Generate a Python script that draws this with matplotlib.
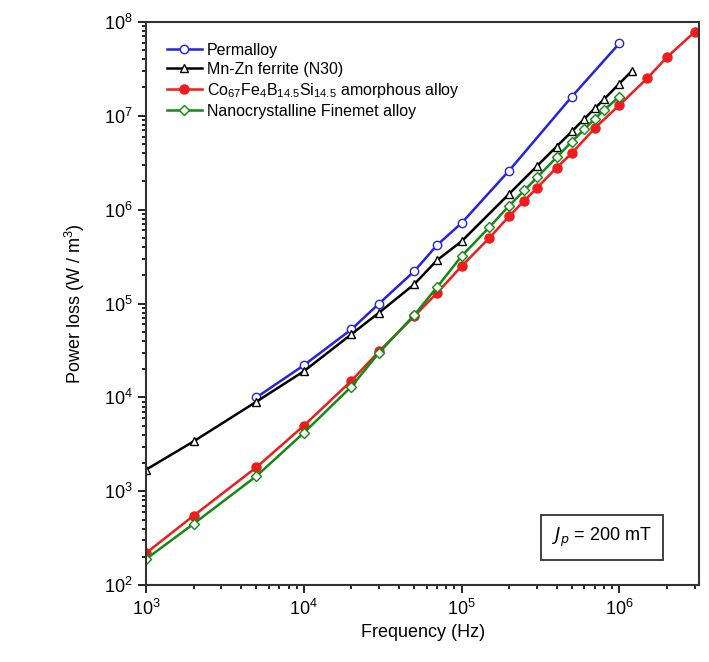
import numpy as np
import matplotlib
matplotlib.use('Agg')
import matplotlib.pyplot as plt
from matplotlib import rcParams

rcParams.update({'font.size': 12, 'font.family': 'Liberation Sans',
                 'mathtext.default': 'regular'})

# Permalloy
f_perm = [5e3, 1e4, 2e4, 3e4, 5e4, 7e4, 1e5, 2e5, 5e5, 1e6]
p_perm = [1.0e4, 2.2e4, 5.3e4, 1.0e5, 2.2e5, 4.2e5, 7.2e5, 2.6e6, 1.6e7, 5.9e7]

# Mn-Zn ferrite (N30)
f_fer = [1e3, 2e3, 5e3, 1e4, 2e4, 3e4, 5e4, 7e4, 1e5, 2e5, 3e5, 4e5, 5e5,
         6e5, 7e5, 8e5, 1e6, 1.2e6]
p_fer = [1.7e3, 3.4e3, 9.0e3, 1.9e4, 4.7e4, 8.0e4, 1.6e5, 2.9e5, 4.6e5,
         1.47e6, 2.9e6, 4.7e6, 6.8e6, 9.3e6, 1.2e7, 1.5e7, 2.2e7, 3.0e7]

# Co67Fe4B14.5Si14.5 amorphous alloy
f_co = [1e3, 2e3, 5e3, 1e4, 2e4, 3e4, 5e4, 7e4, 1e5, 1.5e5, 2e5, 2.5e5, 3e5,
        4e5, 5e5, 7e5, 1e6, 1.5e6, 2e6, 3e6]
p_co = [2.2e2, 5.5e2, 1.8e3, 5.0e3, 1.5e4, 3.1e4, 7.3e4, 1.3e5, 2.5e5, 5.0e5,
        8.5e5, 1.25e6, 1.7e6, 2.8e6, 4.0e6, 7.4e6, 1.3e7, 2.5e7, 4.2e7, 7.8e7]

# Nanocrystalline Finemet alloy
f_fin = [1e3, 2e3, 5e3, 1e4, 2e4, 3e4, 5e4, 7e4, 1e5, 1.5e5, 2e5, 2.5e5, 3e5,
         4e5, 5e5, 6e5, 7e5, 8e5, 1e6]
p_fin = [1.9e2, 4.5e2, 1.45e3, 4.2e3, 1.3e4, 3.0e4, 7.5e4, 1.5e5, 3.2e5, 6.5e5,
         1.1e6, 1.6e6, 2.2e6, 3.6e6, 5.3e6, 7.2e6, 9.3e6, 1.15e7, 1.6e7]

fig = plt.figure(figsize=(7.09, 6.62), dpi=100)
ax = fig.add_axes([0.206, 0.116, 0.78, 0.851])

ax.plot(f_perm, p_perm, color='#2323e0', linewidth=1.8, marker='o', markersize=6,
        markerfacecolor='white', markeredgecolor='#2323e0', label='Permalloy')
ax.plot(f_fer, p_fer, color='black', linewidth=1.8, marker='^', markersize=6,
        markerfacecolor='white', markeredgecolor='black',
        label='Mn-Zn ferrite (N30)')
ax.plot(f_co, p_co, color='#ee1c1c', linewidth=1.8, marker='o', markersize=6.5,
        markerfacecolor='#ee1c1c', markeredgecolor='#ee1c1c',
        label=r'Co$_{67}$Fe$_4$B$_{14.5}$Si$_{14.5}$ amorphous alloy')
ax.plot(f_fin, p_fin, color='#138a13', linewidth=1.8, marker='D', markersize=5.5,
        markerfacecolor='white', markeredgecolor='#138a13',
        label='Nanocrystalline Finemet alloy')

ax.set_xscale('log')
ax.set_yscale('log')
ax.set_xlim(1e3, 3.2e6)
ax.set_ylim(1e2, 1e8)
ax.set_xlabel('Frequency (Hz)', fontsize=13)
ax.set_ylabel(r'Power loss (W / m$^3$)', fontsize=13, labelpad=12)
ax.tick_params(which='both', direction='out', top=False, right=False,
               labelsize=13, width=1.2)
ax.tick_params(which='major', length=6)
ax.tick_params(which='minor', length=3)
for s in ax.spines.values():
    s.set_linewidth(1.5)
    s.set_color('#333333')

ax.legend(loc='upper left', frameon=False, fontsize=11.5, handlelength=2.2,
          handletextpad=0.3, labelspacing=0.25, borderaxespad=0.9)

ax.text(0.915, 0.085, r'$\mathit{J}_{\mathit{p}}$ = 200 mT',
        transform=ax.transAxes, fontsize=13, ha='right', va='center',
        bbox=dict(boxstyle='square,pad=0.6', facecolor='white',
                  edgecolor='#333333', linewidth=1.3))

fig.savefig('out.png', dpi=100)
